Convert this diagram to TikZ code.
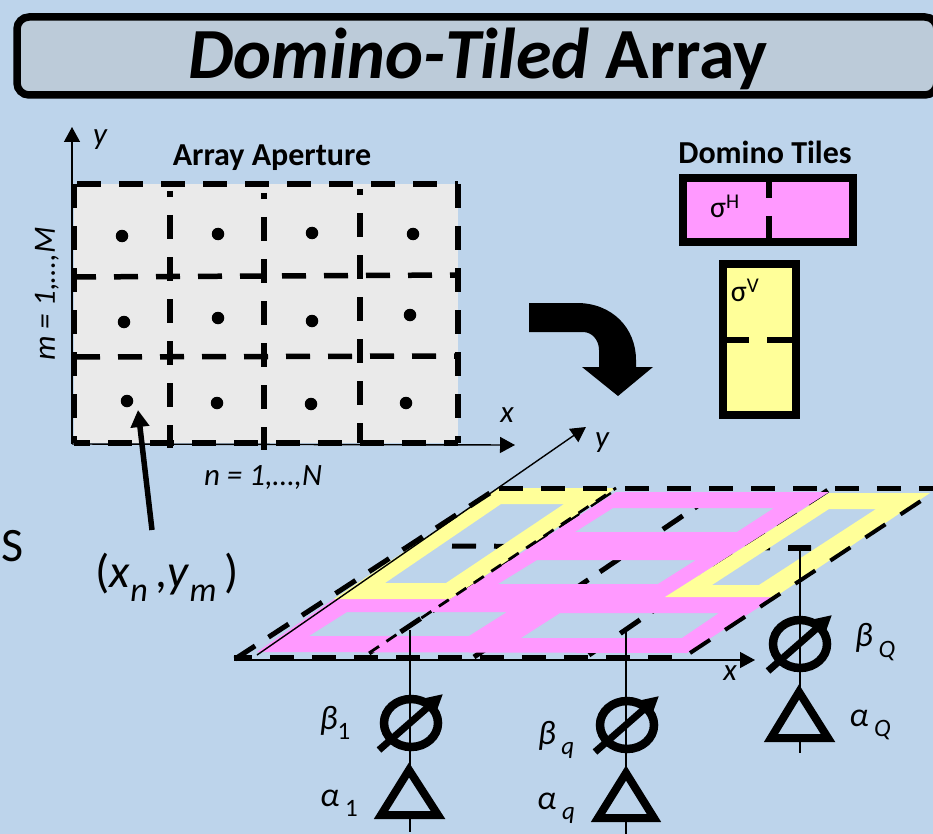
\documentclass[tikz,border=0pt]{standalone}
\usepackage{xcolor}
\usepackage{fontspec}
\setmainfont{Carlito}
\usepackage{tikz}
\usetikzlibrary{shapes.geometric,arrows.meta,calc}
\definecolor{bgcol}{HTML}{BDD4EB}
\definecolor{titlecol}{HTML}{BCCBD9}
\definecolor{apercol}{HTML}{EAEAEA}
\definecolor{pinkcol}{HTML}{FF99FF}
\definecolor{yelcol}{HTML}{FFFF99}
\newcommand{\fsz}[1]{\fontsize{#1}{#1}\selectfont}
\newcommand{\dn}[2]{\raisebox{-.3em}{\fsz{#1}#2}}

\begin{document}
\begin{tikzpicture}[x=1pt,y=-1pt,
  titlebox/.style={draw,line width=7.5pt,rounded corners=12pt,fill=titlecol},
  griddash/.style={line width=5.5pt,dash pattern=on 24pt off 18pt},
  thindash/.style={line width=2.8pt,dash pattern=on 12pt off 9pt},
  axis/.style={-{Triangle[length=15pt,width=16pt]},line width=1.4pt},
  elem/.style={circle,fill=black,inner sep=0pt,minimum size=12.5pt},
  lab/.style={font=\fsz{31}\itshape,inner sep=0pt},
  greek/.style={font=\fsz{34}\itshape,inner sep=0pt},
  head/.style={font=\fsz{32}\bfseries,inner sep=0pt},
  tile/.style={draw,line width=8pt},
  gapline/.style={line width=6pt},
  feed/.style={line width=1.6pt},
  phase/.style={draw,ellipse,line width=8.5pt,minimum width=54pt,minimum height=48pt,inner sep=0pt},
  needle/.style={-{Triangle[length=20pt,width=20pt]},line width=7pt},
  ampl/.style={draw,line width=8pt,miter limit=10}]
  \useasboundingbox (0,0) rectangle (933,834);
  \fill[bgcol] (0,0) rectangle (933,834);

  % title
  \draw[titlebox] (17,17) rectangle (937,95);
  \node[inner sep=0pt,font=\fsz{72}] (title) at (478,59) {\textbf{\textit{Domino-Tiled} Array}};
  \node[inner sep=0pt,font=\fsz{48}] (sletter) at (13,546) {S};

  % aperture
  \coordinate (aNW) at (74,184); \coordinate (aNE) at (458,184);
  \coordinate (aSW) at (74,443); \coordinate (aSE) at (458,443);
  \fill[apercol] (aNW) rectangle (aSE);
  \coordinate (yo) at (72,444);
  \coordinate (ytip) at (72,127); \coordinate (xtip) at (515,445);
  \draw[axis] (yo)--(ytip);
  \draw[axis] (yo)--(xtip);
  \foreach \xv/\ya/\yb in {170/191/448,264/193/450,360/189/443}
    \draw[griddash,dash phase=18pt] (\xv,\ya)--(\xv,\yb);
  \draw[griddash] (72,277)--(460,275);
  \draw[griddash] (76,357)--(460,356);
  \draw[griddash] (77,184)--(aNE);
  \draw[griddash,dash phase=8pt] (aSW)--(aSE);
  \draw[griddash] (aNW)--(aSW);
  \draw[griddash] (aNE)--(aSE);
  \foreach \xv/\yv in {122/236,218/234,312/233,413/234,124/322,218/318,312/321,410/315,217/403,311/404,406/403}
    \node[elem] at (\xv,\yv) {};
  \node[elem] (pnm) at (127,401) {};
  \node[lab] (ylab) at (100,140) {y};
  \node[lab] (xlab) at (507,415) {x};
  \node[head] (aper) at (272,158) {Array Aperture};
  \node[lab,rotate=90] (mlab) at (47,294) {m = 1,…,M};
  \node[lab] (nlab) at (263,478) {n = 1,…,N};
  \node[inner sep=0pt,font=\fsz{47}] (xnym) at (167,577)
    {(\textit{x}\dn{34}{\textit{n}}\,,\textit{y}\dn{34}{\textit{m}}\,)};
  \coordinate (ptail) at (152,530);
  \draw[-{Triangle[length=17pt,width=18pt]},line width=5.5pt] (ptail)--(138,410);

  % domino tiles
  \node[head] (dom) at (765,152) {Domino Tiles};
  \draw[tile,fill=pinkcol] (683,178) rectangle (853,242);
  \draw[gapline] (769,182)--(769,198) (769,216)--(769,238);
  \node[inner sep=0pt,font=\fsz{30}] (sigh) at (725,206) {σ\textsuperscript{H}};
  \draw[tile,fill=yelcol] (723,264) rectangle (796,415);
  \draw[gapline] (727,340)--(749,340) (767,340)--(792,340);
  \node[inner sep=0pt,font=\fsz{30}] (sigv) at (745,290) {σ\textsuperscript{V}};

  % turn arrow
  \fill (529,303)--(577,303) .. controls (612,303) and (636,328) .. (636,360)
    --(636,367)--(653,367)--(618,396)--(582,367)--(599,367)--(599,350)
    .. controls (599,340) and (592,332) .. (583,332)--(529,332)--cycle;

  % hidden grid of the tilted array
  \coordinate (oo) at (235,659); \coordinate (ot) at (499,487);
  \coordinate (tl) at (369,653); \coordinate (tr) at (616,488);
  \draw[griddash,line width=5pt] (452,546)--(811,548);
  \draw[griddash,line width=5pt,dash pattern=on 24pt off 14pt] (474,657)--(721,490);
  \draw[griddash,line width=5pt,dash pattern=on 24pt off 14pt] (589,655)--(831,488);
  \draw[griddash,line width=5pt,dash pattern=on 24pt off 14pt] (tl)--(tr);

  % tilted tiles
  \fill[pinkcol,even odd rule] (616,492)--(829,492)--(665,597)--(775,597)--(687,653)--(257,652)--(334,599)--(450,599)--cycle
    (613,508)--(774,508)--(737,532)--(575,532)--cycle
    (537,560)--(696,560)--(658,584)--(498,584)--cycle
    (347,612)--(507,612)--(469,636)--(309,636)--cycle
    (560,613)--(719,613)--(682,638)--(521,638)--cycle;
  \fill[yelcol,even odd rule] (499,488)--(616,488)--(450,599)--(334,599)--cycle
    (501,504)--(564,504)--(446,583)--(385,583)--cycle;
  \fill[yelcol,even odd rule] (829,493)--(930,493)--(775,597)--(665,597)--cycle
    (829,509)--(876,509)--(759,585)--(712,585)--cycle;

  % visible edges
  \coordinate (xo) at (234,660); \coordinate (xend) at (755,660);
  \coordinate (yb) at (257,655); \coordinate (yend) at (586,427);
  \draw[griddash,line width=5pt,dash pattern=on 24pt off 16pt] (oo)--(ot);
  \draw[griddash,line width=5pt,dash phase=6pt] (234,657)--(672,657);
  \draw[griddash,line width=5pt] (499,488)--(933,488);
  \draw[griddash,line width=4pt] (690,653)--(933,493);
  \draw[thindash] (tl)--(tr);
  \draw[axis] (xo)--(xend);
  \draw[axis] (yb)--(yend);
  \node[lab] (xlabb) at (730,673) {x};
  \node[lab] (ylabb) at (602,443) {y};

  % feeds
  \foreach \nm/\xv/\xc/\ytop/\ybot/\ya in {a/410/411/630/832/723,b/626/627/628/834/725,c/800/800/548/753/644}{
    \coordinate (top\nm) at (\xv,\ytop);
    \coordinate (bot\nm) at (\xv,\ybot);
    \draw[feed] (top\nm)--(bot\nm);
    \node[phase] (ps\nm) at (\xc,\ya) {};
    \draw[needle] ($(ps\nm)+(-32,27)$)--($(ps\nm)+(32,-29)$);
  }
  \draw[gapline] (788,548)--(811,548);
  \draw[ampl,fill=bgcol] (381,815)--(409,770)--(438,815)--cycle;
  \draw[ampl,fill=bgcol] (598,818)--(626,773)--(654,818)--cycle;
  \draw[ampl,fill=bgcol] (771,738)--(799,692)--(828,738)--cycle;

  % element labels
  \node[greek] (bone) at (335,723) {β\dn{25}{\upshape 1}};
  \node[greek] (aone) at (339,803) {α\,\dn{25}{\upshape 1}};
  \node[greek] (bq) at (556,740) {β\,\dn{25}{q}};
  \node[greek] (aq) at (556,808) {α\,\dn{25}{q}};
  \node[greek] (bQ) at (875,642) {β\,\dn{25}{Q}};
  \node[greek] (aQ) at (870,725) {α\,\dn{25}{Q}};
\end{tikzpicture}
\end{document}
